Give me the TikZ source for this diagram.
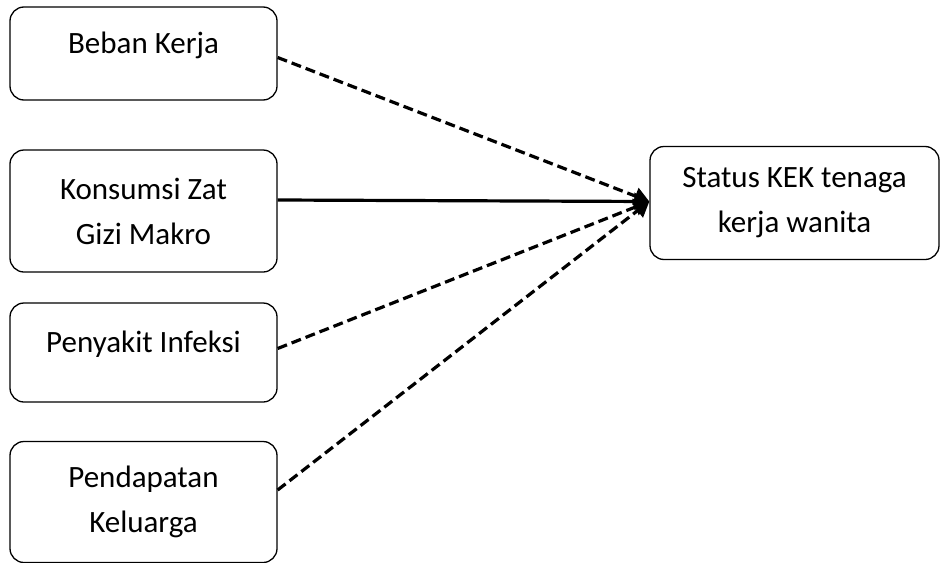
\documentclass[tikz,border=0pt]{standalone}
\usepackage{fontspec}
\setmainfont{Carlito}
\usetikzlibrary{arrows.meta}

\tikzset{
  factor/.style={draw,rounded corners=14pt,line width=1.3pt,minimum width=267pt,
    align=center,font=\fontsize{31}{45}\selectfont},
  oneline/.style={text height=20pt,text depth=20pt},
  link/.style={line width=3.2pt,-{Triangle[length=15pt,width=17pt]}},
  dashlink/.style={link,dash pattern=on 10pt off 5pt}
}

\begin{document}
\begin{tikzpicture}[x=1pt,y=-1pt]
  \useasboundingbox (0,0) rectangle (941,562);

  % faktor
  \node[factor,oneline,minimum height=93pt] (beban)      at (143.5,53.5)  {Beban Kerja};
  \node[factor,minimum height=122pt]        (gizi)       at (143.5,211)   {Konsumsi Zat\\Gizi Makro};
  \node[factor,oneline,minimum height=99pt] (infeksi)    at (143.5,352.5) {Penyakit Infeksi};
  \node[factor,minimum height=121pt]        (pendapatan) at (143.5,502)   {Pendapatan\\Keluarga};

  % status
  \node[factor,minimum width=289pt,minimum height=113pt] (status) at (794.5,203) {Status KEK tenaga\\kerja wanita};

  % hubungan
  \draw[dashlink] ([yshift=-4pt]beban.east)       -- ([yshift=1.5pt]status.west);
  \draw[link]     ([yshift=11pt]gizi.east)        -- ([yshift=1.5pt]status.west);
  \draw[dashlink] ([yshift=4pt]infeksi.east)      -- ([yshift=1.5pt]status.west);
  \draw[dashlink] ([yshift=12pt]pendapatan.east)  -- ([yshift=1.5pt]status.west);

\end{tikzpicture}
\end{document}
